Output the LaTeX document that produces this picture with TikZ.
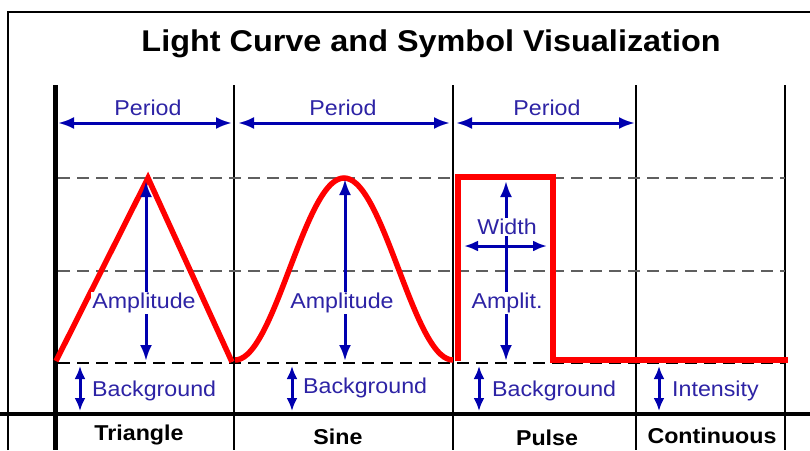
\documentclass[tikz,border=0pt]{standalone}
\usepackage{fontspec}
\setmainfont[FakeStretch=1.08]{Liberation Sans}
\usepackage{tikz}
\usetikzlibrary{positioning, arrows.meta, calc}

\definecolor{dimblue}{RGB}{0,0,175}
\definecolor{textblue}{RGB}{45,35,165}
\definecolor{gridgray}{RGB}{95,95,95}

\begin{document}
\begin{tikzpicture}[
  x=1pt, y=-1pt,
  heading/.style={font=\bfseries\fontsize{30}{36}\selectfont},
  lbl/.style={text=textblue, font=\fontsize{21.5}{25}\selectfont, inner sep=1pt},
  cat/.style={font=\bfseries\fontsize{21.5}{25}\selectfont},
  dim/.style={dimblue, line width=3pt, {Latex[length=16pt,width=12pt]}-{Latex[length=16pt,width=12pt]}},
  smalldim/.style={dimblue, line width=3pt, {Latex[length=13pt,width=11pt]}-{Latex[length=13pt,width=11pt]}},
  curve/.style={red, line width=5.5pt, line join=miter},
  level/.style={gridgray, line width=1.4pt, dash pattern=on 12pt off 7pt},
  >=Latex
]
\useasboundingbox (0,0) rectangle (810,450);

% --- frame and title ---
\coordinate (corner) at (8,12);
\coordinate (floor) at (0,450);
\coordinate (edge) at (810,12);
\draw[line width=2pt] (corner |- floor) -- (corner) -- (edge);
\node[heading] (title) at (431,44) {Light Curve and Symbol Visualization};

% --- columns ---
\coordinate (c0) at (55,85);
\coordinate (c1) at (234,85);
\coordinate (c2) at (453,85);
\coordinate (c3) at (636,85);
\coordinate (c4) at (785,85);
\draw[line width=5pt] (c0) -- (c0 |- floor);
\foreach \c in {c1,c2,c3,c4}
  \draw[line width=1.6pt] (\c) -- (\c |- floor);

% --- levels: peak, half, background ---
\coordinate (top) at (58,178);
\coordinate (mid) at (58,271);
\coordinate (base) at (58,363);
\draw[level] (top) -- (top -| c4);
\draw[level] (mid) -- (mid -| c4);
\draw[level, black] (base) -- (base -| c4);
\coordinate (gl) at (0,414);
\coordinate (gr) at (810,414);
\draw[line width=4pt] (gl) -- (gr);

% --- light curves ---
\coordinate (tri1) at (56,361);
\coordinate (tri2) at (148,178);
\coordinate (tri3) at (232,362);
\draw[curve] (tri1) -- (tri2) -- (tri3);
\draw[curve] plot[domain=0:360, samples=73, smooth] ({235+\x/360*218}, {360-91*(1-cos(\x))});
\coordinate (pul1) at (458,361);
\coordinate (pul2) at (458,177);
\coordinate (pul3) at (553,177);
\coordinate (pul4) at (553,360);
\coordinate (pul5) at (788,360);
\draw[curve] (pul1) -- (pul2) -- (pul3) -- (pul4) -- (pul5);

% --- period arrows ---
\coordinate (p1l) at (58,123);
\coordinate (p1r) at (232,123);
\coordinate (p2l) at (238,123);
\coordinate (p2r) at (450,123);
\coordinate (p3l) at (456,123);
\coordinate (p3r) at (635,123);
\draw[dim] (p1l) -- (p1r);
\draw[dim] (p2l) -- (p2r);
\draw[dim] (p3l) -- (p3r);
\node[lbl] (per1) at (148,108) {Period};
\node[lbl] (per2) at (343,108) {Period};
\node[lbl] (per3) at (547,108) {Period};

% --- amplitude arrows ---
\coordinate (a1t) at (146,181);
\coordinate (a1b) at (146,361);
\coordinate (a2t) at (345,179);
\coordinate (a2b) at (345,361);
\coordinate (a3t) at (506,181);
\coordinate (a3b) at (506,361);
\draw[dim] (a1t) -- (a1b);
\draw[dim] (a2t) -- (a2b);
\draw[dim] (a3t) -- (a3b);
\node[lbl, fill=white] (amp1) at (144,303) {Amplitude};
\node[lbl, fill=white] (amp2) at (342,303) {Amplitude};
\node[lbl, fill=white] (amp3) at (507,303) {Amplit.};

% pulse width
\node[lbl, fill=white] (width) at (507,227) {Width};
\coordinate (wl) at (464,246);
\coordinate (wr) at (547,246);
\draw[dim, {Latex[length=14pt,width=11pt]}-{Latex[length=14pt,width=11pt]}] (wl) -- (wr);

% --- background / intensity ---
\coordinate (b1t) at (80,366);
\coordinate (b1b) at (80,411);
\coordinate (b2t) at (292,366);
\coordinate (b2b) at (292,411);
\coordinate (b3t) at (479,366);
\coordinate (b3b) at (479,411);
\coordinate (b4t) at (659,366);
\coordinate (b4b) at (659,411);
\draw[smalldim] (b1t) -- (b1b);
\draw[smalldim] (b2t) -- (b2b);
\draw[smalldim] (b3t) -- (b3b);
\draw[smalldim] (b4t) -- (b4b);
\node[lbl, anchor=west] (bg1) at (91,391) {Background};
\node[lbl, anchor=west] (bg2) at (302,388) {Background};
\node[lbl, anchor=west] (bg3) at (491,391) {Background};
\node[lbl, anchor=west] (inten) at (671,391) {Intensity};

% --- symbol names ---
\node[cat] (triangle) at (139,435) {Triangle};
\node[cat] (sine) at (338,437) {Sine};
\node[cat] (pulse) at (547,438) {Pulse};
\node[cat] (cont) at (712,436) {Continuous};
\end{tikzpicture}
\end{document}
